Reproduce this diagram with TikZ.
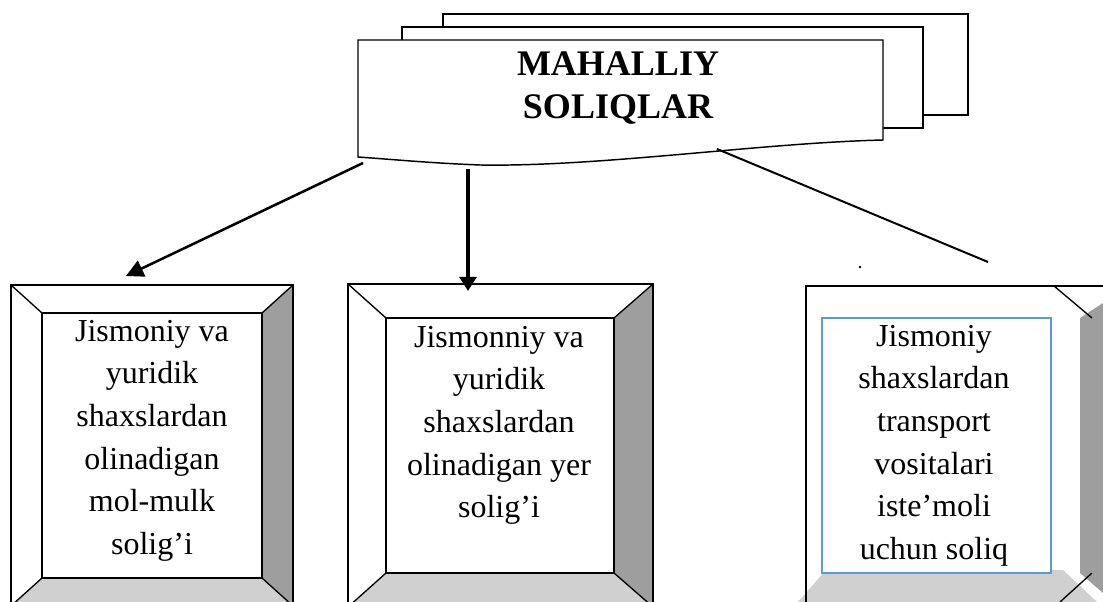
\documentclass[tikz,border=0pt]{standalone}
\usepackage{fontspec}
\setmainfont{Liberation Serif}
\usetikzlibrary{arrows.meta}
\definecolor{bevdark}{RGB}{158,158,158}
\definecolor{bevlight}{RGB}{208,208,208}
\definecolor{wordblue}{RGB}{91,155,213}
\begin{document}
\begin{tikzpicture}[x=0.75pt,y=-0.75pt,
  outl/.style={draw=black,line width=1.1pt},
  diag/.style={draw=black,line width=1pt},
  docpage/.style={draw=black,line width=1.1pt,fill=white},
  boxtext/.style={inner sep=0pt,align=center,anchor=north,font=\fontsize{24}{31.9}\selectfont},
  titletext/.style={inner sep=0pt,align=center,anchor=north,font=\fontsize{27}{32.3}\selectfont\bfseries},
  conn/.style={draw=black}]
\useasboundingbox (0,0) rectangle (1103,602);
\begin{scope}
\clip (0,0) rectangle (1103,602);
% ---- title: stacked documents
\path[docpage] (443,14) rectangle (968,115);
\path[docpage] (402,27) rectangle (923,128);
\path[docpage] (358,40) -- (883,40) -- (883,140) .. controls (760,143) and (600,167) .. (480,165) .. controls (430,163) and (400,160) .. (358,157) -- cycle;
\node[titletext] (title) at (618,51) {MAHALLIY\\SOLIQLAR};
% ---- left bevel box
\fill[white] (11,285) rectangle (293,606);
\fill[bevdark] (293,285) -- (293,606) -- (262,578) -- (262,313) -- cycle;
\fill[bevlight] (11,606) -- (293,606) -- (262,578) -- (42,578) -- cycle;
\draw[outl] (11,285) rectangle (293,606);
\draw[outl] (42,313) rectangle (262,578);
\draw[diag] (11,285) -- (42,313) (293,285) -- (262,313) (11,606) -- (42,578) (293,606) -- (262,578);
\node[boxtext] (b1) at (152,320) {Jismoniy va\\yuridik\\shaxslardan\\olinadigan\\mol-mulk\\solig’i};
% ---- middle bevel box
\fill[white] (348,284) rectangle (653,607);
\fill[bevdark] (653,284) -- (653,607) -- (614,573) -- (614,318) -- cycle;
\fill[bevlight] (348,607) -- (653,607) -- (614,573) -- (386,573) -- cycle;
\draw[outl] (348,284) rectangle (653,607);
\draw[outl] (386,318) rectangle (614,573);
\draw[diag] (348,284) -- (386,318) (653,284) -- (614,318) (348,607) -- (386,573) (653,607) -- (614,573);
\node[boxtext] (b2) at (499,326) {Jismonniy va\\yuridik\\shaxslardan\\olinadigan yer\\solig’i};
% ---- right bevel box (partly cut)
\fill[bevdark] (1080,318) -- (1103,303) -- (1103,593) -- (1080,573) -- cycle;
\fill[bevlight] (798,602) -- (825,571) -- (1063,570) -- (1097,602) -- cycle;
\draw[outl] (1103,286) -- (806,286) -- (806,602);
\draw[diag] (1054,286) -- (1092,318);
\draw[diag] (1092,573) -- (1060,602);
\draw[draw=wordblue,fill=white,line width=1.2pt] (822,318) rectangle (1051,573);
\node[boxtext] (b3) at (934,325) {Jismoniy\\shaxslardan\\transport\\vositalari\\iste’moli\\uchun soliq};
% ---- connectors
\coordinate (l1s) at (363,163);
\coordinate (l1e) at (126,276);
\coordinate (l2s) at (468,169);
\coordinate (l2e) at (468,291);
\coordinate (l3s) at (717,149);
\coordinate (l3e) at (988,262);
\draw[conn,line width=1.9pt,-{Triangle[length=13pt,width=13pt]}] (l1s) -- (l1e);
\draw[conn,line width=3pt,-{Triangle[length=10.5pt,width=12.5pt]}] (l2s) -- (l2e);
\draw[conn,line width=1.5pt] (l3s) -- (l3e);
\fill (860,267) circle (1.3);
\end{scope}
\end{tikzpicture}
\end{document}
